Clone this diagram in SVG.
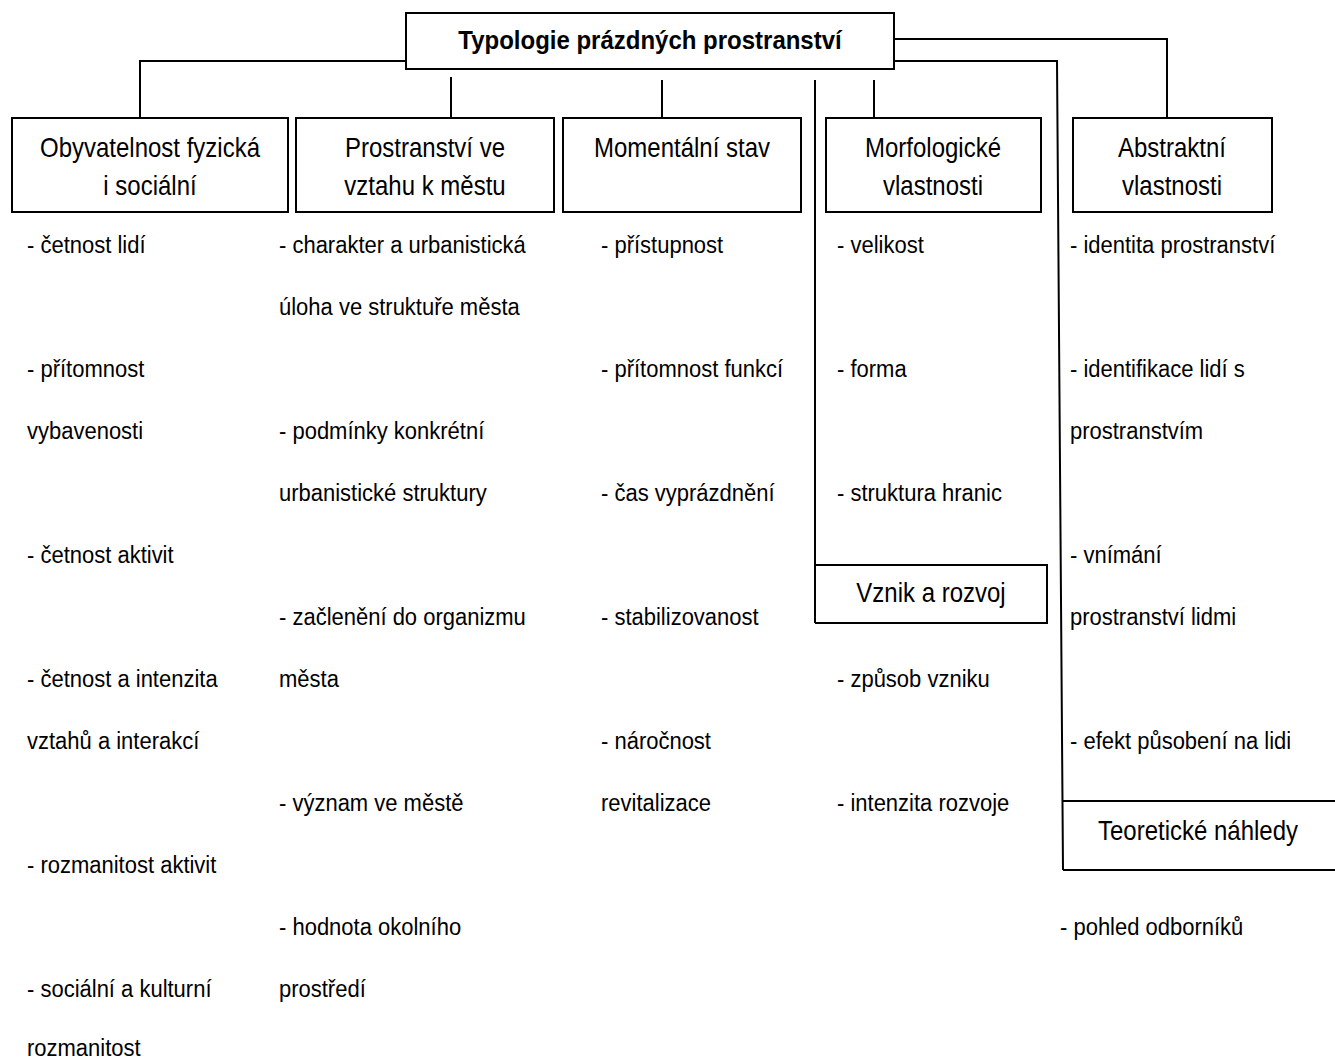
<svg xmlns="http://www.w3.org/2000/svg" width="1335" height="1059" viewBox="0 0 1335 1059">
<style>
.box{fill:#fff;stroke:#000;stroke-width:2}
.ln{fill:none;stroke:#000;stroke-width:2}
.lbl{font-family:"Liberation Sans",Arial,sans-serif;font-size:24px;fill:#000;text-anchor:middle}
.ttl{font-family:"Liberation Sans",Arial,sans-serif;font-size:24px;font-weight:bold;fill:#000;text-anchor:middle}
.it{font-family:"Liberation Sans",Arial,sans-serif;font-size:22px;fill:#000}
</style>
<rect width="1335" height="1059" fill="#fff"/>
<g id="connectors">
<path class="ln" d="M406,61 H140 V118"/>
<path class="ln" d="M451,77 V118"/>
<path class="ln" d="M662,80 V118"/>
<path class="ln" d="M874,80 V118"/>
<path class="ln" d="M894,39 H1167 V118"/>
<path class="ln" d="M815,80 V623"/>
<path class="ln" d="M894,61 H1057 L1063,870"/>
</g>
<g id="n-root">
<rect class="box" x="406" y="13" width="488" height="56"/>
<text class="ttl" transform="translate(650 49) scale(1 1.05)">Typologie prázdných prostranství</text>
</g>
<g id="n-obyv">
<rect class="box" x="12" y="118" width="276" height="94"/>
<text class="lbl" transform="translate(150 157) scale(1 1.12)">Obyvatelnost fyzická</text>
<text class="lbl" transform="translate(150 195) scale(1 1.12)">i sociální</text>
</g>
<g id="n-prostr">
<rect class="box" x="296" y="118" width="258" height="94"/>
<text class="lbl" transform="translate(425 157) scale(1 1.12)">Prostranství ve</text>
<text class="lbl" transform="translate(425 195) scale(1 1.12)">vztahu k městu</text>
</g>
<g id="n-moment">
<rect class="box" x="563" y="118" width="238" height="94"/>
<text class="lbl" transform="translate(682 157) scale(1 1.12)">Momentální stav</text>
</g>
<g id="n-morf">
<rect class="box" x="826" y="118" width="215" height="94"/>
<text class="lbl" transform="translate(933 157) scale(1 1.12)">Morfologické</text>
<text class="lbl" transform="translate(933 195) scale(1 1.12)">vlastnosti</text>
</g>
<g id="n-abstr">
<rect class="box" x="1073" y="118" width="199" height="94"/>
<text class="lbl" transform="translate(1172 157) scale(1 1.12)">Abstraktní</text>
<text class="lbl" transform="translate(1172 195) scale(1 1.12)">vlastnosti</text>
</g>
<g id="n-vznik">
<path class="ln" d="M815,565 H1047 V623 H815"/>
<text class="lbl" transform="translate(931 602) scale(1 1.12)">Vznik a rozvoj</text>
</g>
<g id="n-teor">
<path class="ln" d="M1063,801 H1336 M1063,870 H1336"/>
<text class="lbl" transform="translate(1198 840) scale(1 1.12)">Teoretické náhledy</text>
</g>
<g id="items-obyv">
<text class="it" transform="translate(27 253) scale(1 1.1)">- četnost lidí</text>
<text class="it" transform="translate(27 377) scale(1 1.1)">- přítomnost</text>
<text class="it" transform="translate(27 439) scale(1 1.1)">vybavenosti</text>
<text class="it" transform="translate(27 563) scale(1 1.1)">- četnost aktivit</text>
<text class="it" transform="translate(27 687) scale(1 1.1)">- četnost a intenzita</text>
<text class="it" transform="translate(27 749) scale(1 1.1)">vztahů a interakcí</text>
<text class="it" transform="translate(27 873) scale(1 1.1)">- rozmanitost aktivit</text>
<text class="it" transform="translate(27 997) scale(1 1.1)">- sociální a kulturní</text>
<text class="it" transform="translate(27 1056) scale(1 1.1)">rozmanitost</text>
</g>
<g id="items-prostr">
<text class="it" transform="translate(279 253) scale(1 1.1)">- charakter a urbanistická</text>
<text class="it" transform="translate(279 315) scale(1 1.1)">úloha ve struktuře města</text>
<text class="it" transform="translate(279 439) scale(1 1.1)">- podmínky konkrétní</text>
<text class="it" transform="translate(279 501) scale(1 1.1)">urbanistické struktury</text>
<text class="it" transform="translate(279 625) scale(1 1.1)">- začlenění do organizmu</text>
<text class="it" transform="translate(279 687) scale(1 1.1)">města</text>
<text class="it" transform="translate(279 811) scale(1 1.1)">- význam ve městě</text>
<text class="it" transform="translate(279 935) scale(1 1.1)">- hodnota okolního</text>
<text class="it" transform="translate(279 997) scale(1 1.1)">prostředí</text>
</g>
<g id="items-moment">
<text class="it" transform="translate(601 253) scale(1 1.1)">- přístupnost</text>
<text class="it" transform="translate(601 377) scale(1 1.1)">- přítomnost funkcí</text>
<text class="it" transform="translate(601 501) scale(1 1.1)">- čas vyprázdnění</text>
<text class="it" transform="translate(601 625) scale(1 1.1)">- stabilizovanost</text>
<text class="it" transform="translate(601 749) scale(1 1.1)">- náročnost</text>
<text class="it" transform="translate(601 811) scale(1 1.1)">revitalizace</text>
</g>
<g id="items-morf">
<text class="it" transform="translate(837 253) scale(1 1.1)">- velikost</text>
<text class="it" transform="translate(837 377) scale(1 1.1)">- forma</text>
<text class="it" transform="translate(837 501) scale(1 1.1)">- struktura hranic</text>
<text class="it" transform="translate(837 687) scale(1 1.1)">- způsob vzniku</text>
<text class="it" transform="translate(837 811) scale(1 1.1)">- intenzita rozvoje</text>
</g>
<g id="items-abstr">
<text class="it" transform="translate(1070 253) scale(1 1.1)">- identita prostranství</text>
<text class="it" transform="translate(1070 377) scale(1 1.1)">- identifikace lidí s</text>
<text class="it" transform="translate(1070 439) scale(1 1.1)">prostranstvím</text>
<text class="it" transform="translate(1070 563) scale(1 1.1)">- vnímání</text>
<text class="it" transform="translate(1070 625) scale(1 1.1)">prostranství lidmi</text>
<text class="it" transform="translate(1070 749) scale(1 1.1)">- efekt působení na lidi</text>
<text class="it" transform="translate(1060 935) scale(1 1.1)">- pohled odborníků</text>
</g>
</svg>
